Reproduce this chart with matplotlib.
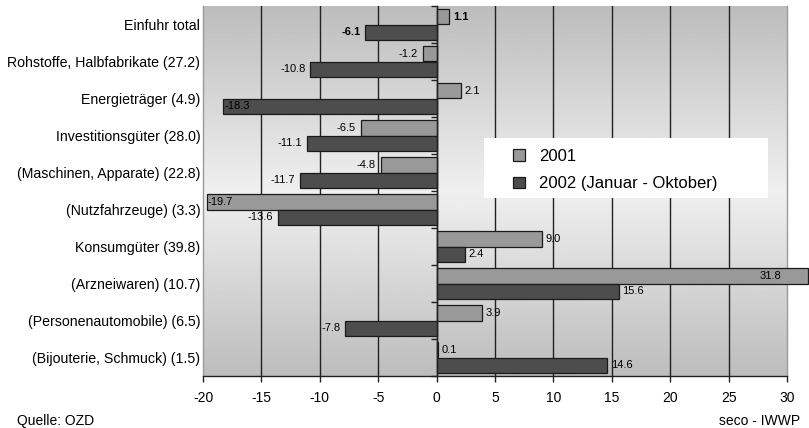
import numpy as np
import matplotlib.pyplot as plt
from matplotlib.patches import Rectangle

plt.rcParams["font.family"] = ["Liberation Sans", "DejaVu Sans"]
plt.rcParams["axes.unicode_minus"] = False

# Warengruppen mit Anteil in Klammern
kategorien = [
    "Einfuhr total",
    "Rohstoffe, Halbfabrikate (27.2)",
    "Energieträger (4.9)",
    "Investitionsgüter (28.0)",
    "(Maschinen, Apparate) (22.8)",
    "(Nutzfahrzeuge) (3.3)",
    "Konsumgüter (39.8)",
    "(Arzneiwaren) (10.7)",
    "(Personenautomobile) (6.5)",
    "(Bijouterie, Schmuck) (1.5)",
]
werte_2001 = [1.1, -1.2, 2.1, -6.5, -4.8, -19.7, 9.0, 31.8, 3.9, 0.1]
werte_2002 = [-6.1, -10.8, -18.3, -11.1, -11.7, -13.6, 2.4, 15.6, -7.8, 14.6]
serien = ["2001", "2002 (Januar - Oktober)"]
x_ticks = [-20, -15, -10, -5, 0, 5, 10, 15, 20, 25, 30]

XMIN, XMAX = -20, 30
farbe_2001 = "#999999"
farbe_2002 = "#4d4d4d"

fig = plt.figure(figsize=(8.09, 4.28), dpi=100)
ax = fig.add_axes([203 / 809, 1 - 376 / 428, 584 / 809, 370 / 428])

# Hintergrund mit Verlauf (oben/unten grau, Mitte hell)
t = np.linspace(0, 1, 256)
hell = 0.94 - 0.20 * np.abs(t - 0.5) * 2
ax.imshow(hell[:, None], cmap="gray", vmin=0, vmax=1, aspect="auto",
          extent=(XMIN, XMAX, 9.5, -0.5), zorder=0, interpolation="bilinear")

y = np.arange(len(kategorien))
h = 0.42
b1 = ax.barh(y - h / 2, werte_2001, height=h, color=farbe_2001,
             edgecolor="#1a1a1a", linewidth=0.9, zorder=3, label=serien[0])
b2 = ax.barh(y + h / 2, werte_2002, height=h, color=farbe_2002,
             edgecolor="#1a1a1a", linewidth=0.9, zorder=3, label=serien[1])
for r in list(b1) + list(b2):
    r.set_clip_on(False)

ax.set_xlim(XMIN, XMAX)
ax.set_ylim(9.5, -0.5)

# vertikale Gitterlinien
for xv in x_ticks[1:-1]:
    ax.axvline(xv, color="#222222", linewidth=1.0, zorder=1)

ax.set_xticks(x_ticks)
ax.tick_params(axis="x", direction="out", length=4, width=1,
               colors="#222222", labelsize=10, pad=7)
ax.tick_params(axis="x", labelcolor="black")
ax.set_yticks(y)
ax.set_yticklabels(kategorien, fontsize=10.2)
ax.tick_params(axis="y", length=0, pad=2)

for s in ["left", "right", "top"]:
    ax.spines[s].set_color("#9a9a9a")
    ax.spines[s].set_linewidth(1.0)
ax.spines["top"].set_visible(False)
ax.spines["bottom"].set_color("#222222")
ax.spines["bottom"].set_linewidth(1.0)

# Nulllinie mit Teilstrichen zwischen den Kategorien
null = ax.secondary_yaxis((0 - XMIN) / (XMAX - XMIN))
null.set_yticks(np.arange(-0.5, len(kategorien) + 0.5, 1.0))
null.set_yticklabels([])
null.tick_params(length=4, width=1, direction="out", colors="#222222")
null.spines["left"].set_color("#222222")
null.spines["left"].set_linewidth(1.0)
null.set_zorder(4)


# Beschriftung der Balken
def beschriften(werte, ypos, fett):
    for i, (v, yy) in enumerate(zip(werte, ypos)):
        txt = f"{v:.1f}"
        w = "bold" if fett[i] else "normal"
        if v > XMAX:
            ax.annotate(txt, (XMAX, yy), xytext=(-4, 0), textcoords="offset points",
                        ha="right", va="center", fontsize=8, fontweight=w, zorder=5)
        elif v < XMIN + 3:
            ax.annotate(txt, (v, yy), xytext=(1, 0), textcoords="offset points",
                        ha="left", va="center", fontsize=8, fontweight=w, zorder=5)
        elif v >= 0:
            ax.annotate(txt, (v, yy), xytext=(2.5, 0), textcoords="offset points",
                        ha="left", va="center", fontsize=8, fontweight=w, zorder=5)
        else:
            ax.annotate(txt, (v, yy), xytext=(-3.5, 0), textcoords="offset points",
                        ha="right", va="center", fontsize=8, fontweight=w, zorder=5)


fett = [True] + [False] * (len(kategorien) - 1)
beschriften(werte_2001, y - h / 2, fett)
beschriften(werte_2002, y + h / 2, fett)

# Legende auf weissem Feld
ax.add_patch(Rectangle((0.481, 0.481), 0.486, 0.162, transform=ax.transAxes,
                       facecolor="white", edgecolor="none", zorder=4))
leg = fig.legend(handles=[b1, b2], labels=serien, loc="center left",
                 bbox_to_anchor=(513 / 809, 1 - 170 / 428), frameon=False,
                 fontsize=12, handlelength=0.7, handleheight=0.7,
                 handletextpad=0.85, labelspacing=0.75, borderpad=0,
                 borderaxespad=0)
leg.set_zorder(6)

fig.text(17 / 809, 1 - 421 / 428, "Quelle: OZD", fontsize=10, va="center", ha="left")
fig.text(800 / 809, 1 - 421 / 428, "seco - IWWP", fontsize=10, va="center", ha="right")

fig.savefig("out.png", dpi=100)
